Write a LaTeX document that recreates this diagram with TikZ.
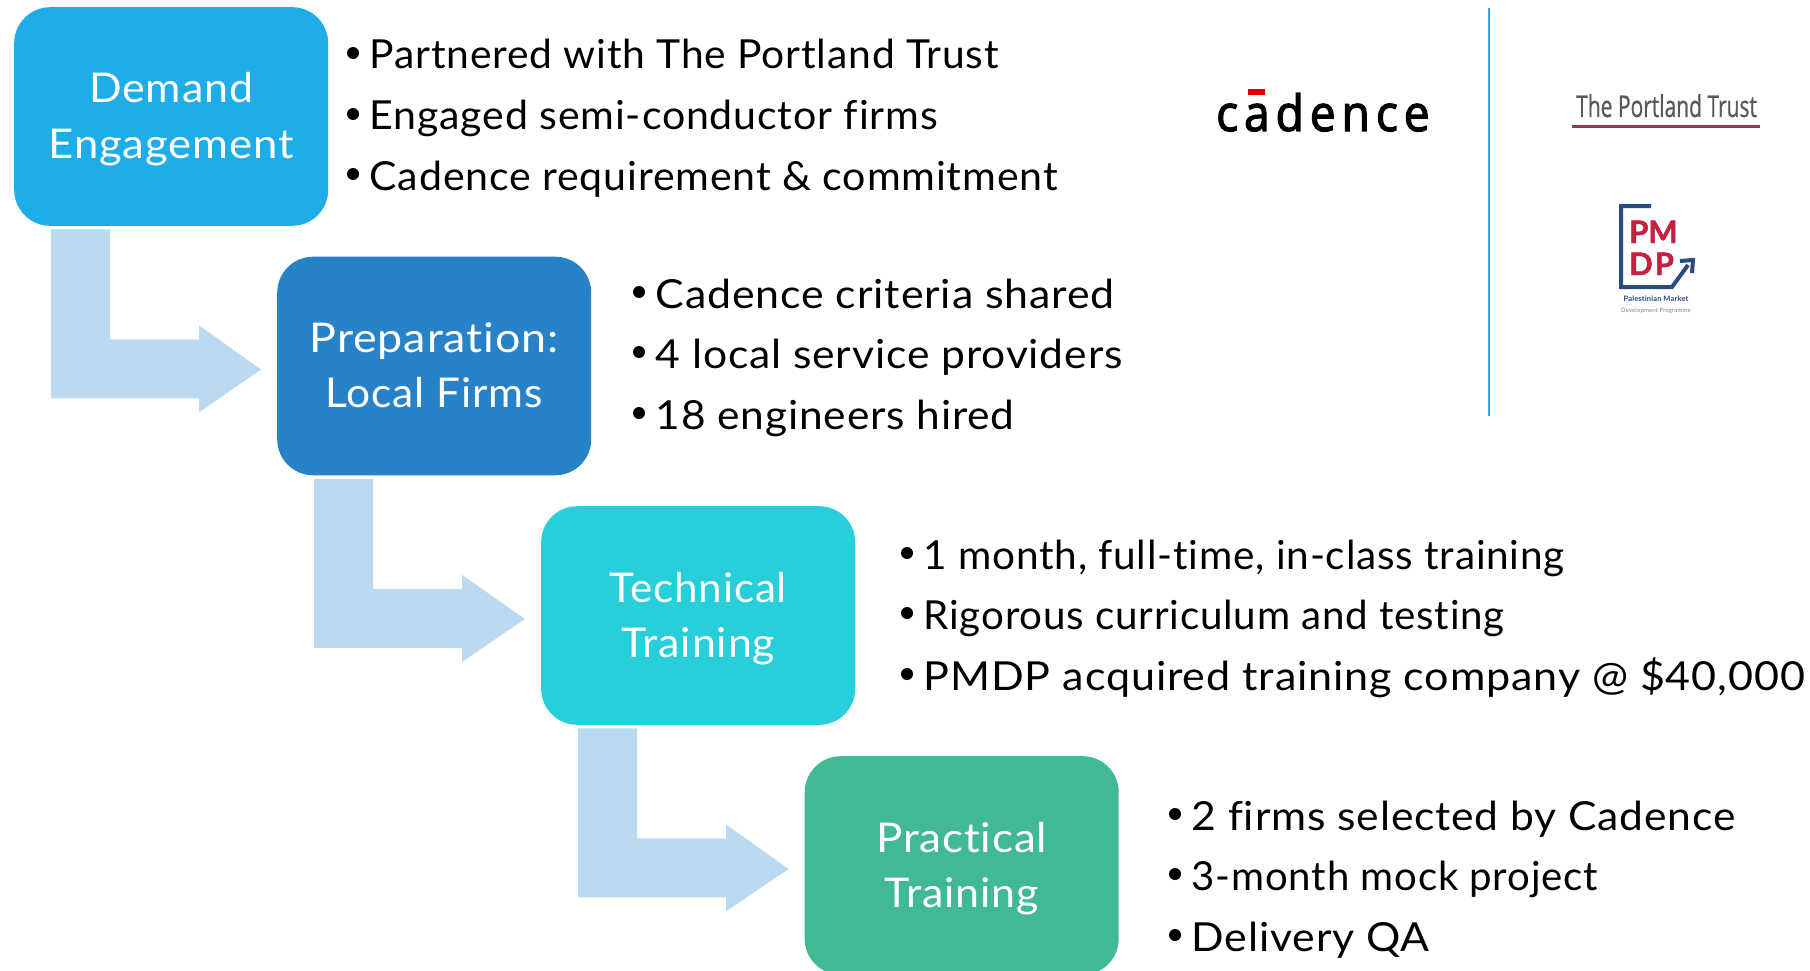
\documentclass[tikz,border=0pt]{standalone}
\usepackage{fontspec}
\usepackage{graphicx}
\setmainfont{Lato}[Ligatures=NoCommon,LetterSpace=2]
\newfontfamily\cadfont{Open Sans}[FakeBold=2.5,FakeStretch=0.92]
\newfontfamily\ptfont{Open Sans}[FakeStretch=0.70,FakeBold=0.6]
\newfontfamily\pmfont{Lato}[BoldFeatures={FakeBold=1.5}]
\usetikzlibrary{calc}
\definecolor{cA}{HTML}{1EADE6}
\definecolor{cB}{HTML}{2882C8}
\definecolor{cC}{HTML}{28CFDA}
\definecolor{cD}{HTML}{41B996}
\definecolor{cArrow}{HTML}{BBD9F1}
\definecolor{cRule}{HTML}{30A9E8}
\definecolor{cMaroon}{HTML}{8B3A55}
\definecolor{cNavy}{HTML}{2B4A7D}
\definecolor{cRed}{HTML}{C4203F}
\tikzset{
  stagebox/.style={rectangle,rounded corners=36pt,minimum width=314pt,minimum height=218.6pt,inner sep=0pt,anchor=north west},
  stagetext/.style={text=white,anchor=base,inner sep=0pt,font=\fontsize{41}{48}\selectfont},
  itemtext/.style={text=black,anchor=base west,inner sep=0pt,font=\fontsize{40}{47}\selectfont},
  bulletdot/.style={circle,fill=black,minimum size=12pt,inner sep=0pt},
  bent/.style={fill=cArrow,draw=none},
}
\newcommand{\bentarrow}[2]{%
  \fill[bent] ($(#1.south west)+(37,3.4)$) -- ($(#1.south west)+(96,3.4)$)
    -- ($(#1.south west)+(96,113.4)$) -- ($(#1.south west)+(185,113.4)$)
    -- ($(#1.south west)+(185,99.4)$) -- ($(#2.west)+(-16,3.5)$)
    -- ($(#1.south west)+(185,186.4)$) -- ($(#1.south west)+(185,172.4)$)
    -- ($(#1.south west)+(37,172.4)$) -- cycle;}
\newcommand{\itemline}[5]{% name, x of bullet, baseline y, width, text
  \node[bulletdot] (#1d) at (#2,#3-16) {};
  \node[itemtext] (#1) at (#2+16.5,#3) {\resizebox{#4pt}{\height}{#5}};}
\newcommand{\stagelabel}[5]{% name, box, offset, width, text
  \node[stagetext] (#1) at ($(#2.north)+(0,#3)$) {\resizebox{#4pt}{\height}{#5}};}
\begin{document}
\begin{tikzpicture}[x=1pt,y=-1pt]
\clip (0,0) rectangle (1810,971);
\fill[white] (0,0) rectangle (1810,971);
\node[stagebox,fill=cA] (b1) at (14,7) {};
\node[stagebox,fill=cB] (b2) at (277,256.5) {};
\node[stagebox,fill=cC] (b3) at (541,506) {};
\node[stagebox,fill=cD] (b4) at (804.5,756) {};
\bentarrow{b1}{b2}
\bentarrow{b2}{b3}
\bentarrow{b3}{b4}
\stagelabel{t1a}{b1}{96}{164}{Demand}
\stagelabel{t1b}{b1}{151}{245}{Engagement}
\stagelabel{t2a}{b2}{96}{249}{Preparation:}
\stagelabel{t2b}{b2}{151}{217}{Local Firms}
\stagelabel{t3a}{b3}{96}{177}{Technical}
\stagelabel{t3b}{b3}{151}{154}{Training}
\stagelabel{t4a}{b4}{96}{171}{Practical}
\stagelabel{t4b}{b4}{151}{154}{Training}
\itemline{i1}{353}{69}{629}{Partnered with The Portland Trust}
\itemline{i2}{353}{130}{568}{Engaged semi-conductor firms}
\itemline{i3}{353}{190}{688}{Cadence requirement \& commitment}
\itemline{j1}{639}{308}{459}{Cadence criteria shared}
\itemline{j2}{639}{368}{467}{4 local service providers}
\itemline{j3}{639}{429}{359}{18 engineers hired}
\itemline{k1}{907}{569}{641}{1 month, full-time, in-class training}
\itemline{k2}{907}{629}{581}{Rigorous curriculum and testing}
\itemline{k3}{907}{690}{881}{PMDP acquired training company @ \$40,000}
\itemline{l1}{1175}{830}{544}{2 firms selected by Cadence}
\itemline{l2}{1175}{890}{406}{3-month mock project}
\itemline{l3}{1175}{951}{238}{Delivery QA}
% divider
\draw[cRule,line width=2pt] (1489,8) -- (1489,416);
% cadence logo
\node[anchor=base west,inner sep=0pt,text=black,font=\cadfont\fontsize{50}{52}\selectfont] (cad) at (1216,131) {c\hspace{6pt}a\hspace{6pt}d\hspace{6pt}e\hspace{6pt}n\hspace{6pt}c\hspace{6pt}e};
\fill[red!90!black] (1248,89) rectangle (1265,95);
% Portland Trust logo
\node[anchor=base west,inner sep=0pt,text=black!65,font=\ptfont\fontsize{30}{34}\selectfont] (pt) at (1576,117) {The Portland Trust};
\draw[cMaroon,line width=3pt] (1572,127) -- (1760,127);
% PMDP logo
\draw[cNavy,line width=4pt] (1651,206) -- (1621,206) -- (1621,287) -- (1672,287) -- (1688,265);
\draw[cNavy,line width=4pt] (1680,261) -- (1693,260) -- (1692,273);
\node[anchor=base west,inner sep=0pt,text=cRed,font=\pmfont\bfseries\fontsize{31}{32}\selectfont] (pm) at (1629,243) {PM};
\node[anchor=base west,inner sep=0pt,text=cRed,font=\pmfont\bfseries\fontsize{31}{32}\selectfont] (dp) at (1629,275) {D\hspace{2pt}P};
\node[anchor=base,inner sep=0pt,text=cNavy,font=\bfseries\fontsize{7.5}{8}\selectfont] (pa) at (1656,301) {Palestinian Market};
\node[anchor=base,inner sep=0pt,text=black!50,font=\fontsize{6}{7}\selectfont] (pb) at (1656,312) {Development Programme};
\end{tikzpicture}
\end{document}
